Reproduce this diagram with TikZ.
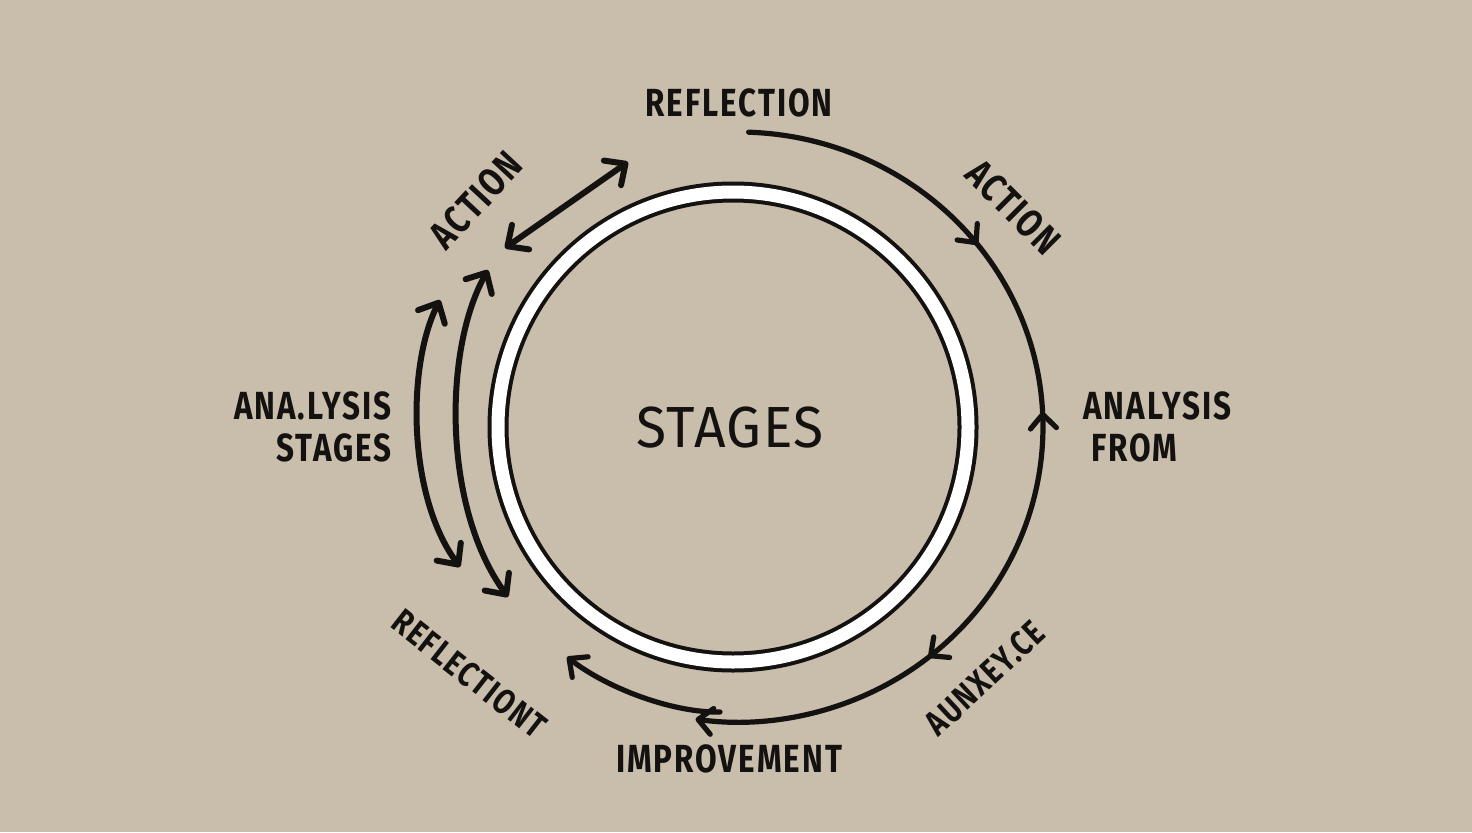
\documentclass[tikz,border=0pt]{standalone}
\usepackage{fontspec}
\setsansfont{Fira Sans}
\newfontfamily\handfont[FakeStretch=0.8,LetterSpace=5]{Fira Sans}
\newfontfamily\centerfont[FakeStretch=0.95,LetterSpace=3]{Fira Sans}
\usetikzlibrary{arrows.meta,decorations.markings}
\definecolor{bg}{HTML}{C9BDAB}
\definecolor{ink}{HTML}{141210}
\begin{document}
\begin{tikzpicture}[x=0.5pt,y=0.5pt,
  inkline/.style={draw=ink, line width=2.6pt, line cap=round, line join=round},
  thickline/.style={draw=ink, line width=3pt, line cap=round, line join=round},
  >={Straight Barb[length=7pt,width=13pt,line cap=round,line join=round]},
  bigtip/.tip={Straight Barb[length=8pt,width=15pt,line cap=round,line join=round]},
  lbl/.style={text=ink, font=\handfont\bfseries\fontsize{19.6}{21}\selectfont, inner sep=0pt},
  slbl/.style={text=ink, font=\handfont\bfseries\fontsize{17.5}{19}\selectfont, inner sep=0pt},
  ctr/.style={text=ink, font=\centerfont\fontsize{29}{31}\selectfont, inner sep=0pt}]
\fill[bg] (0,0) rectangle (1472,832);
\useasboundingbox (0,0) rectangle (1472,832);
% ring
\coordinate (ring) at (733,405);
\draw[ink, line width=10.5pt] (ring) circle[radius=235];
\draw[white, line width=6.5pt] (ring) circle[radius=235];
\node[ctr] (stages) at (730,404) {STAGES};
% big right arc
\coordinate (bigstart) at (748.6,699.8);
\draw[inkline, ->, postaction={decorate}, decoration={markings,
   mark=at position 0.27 with {\arrow{>}},
   mark=at position 0.457 with {\arrowreversed{>}},
   mark=at position 0.746 with {\arrow{>}}}]
  (bigstart) arc[start angle=88, end angle=-98, x radius=305, y radius=295] coordinate (bigend);
% bottom-left curve
\coordinate (blstart) at (720,120);
\coordinate (blend) at (567,175);
\draw[inkline, ->] (blstart) .. controls (675,119) and (610,142) .. (blend);
% top-left double arrow
\coordinate (tla) at (505,584);
\coordinate (tlb) at (628,670);
\draw[thickline, bigtip-bigtip] (tla) -- (tlb);
% left arcs
\coordinate (ia) at (488,562);
\coordinate (ib) at (508,235);
\draw[thickline, bigtip-bigtip] (ia) .. controls (443,482) and (443,324) .. (ib);
\coordinate (oa) at (440,532);
\coordinate (ob) at (460,265);
\draw[thickline, bigtip-bigtip] (oa) .. controls (407,467) and (407,337) .. (ob);
% labels
\node[lbl] (reflTop) at (739,729) {REFLECTION};
\node[lbl, rotate=47] (actL) at (476,632) {ACTION};
\node[lbl, rotate=-45] (actR) at (1013,625) {ACTION};
\node[lbl, align=right, anchor=east] (anaL) at (392,405) {ANA.LYSIS\\STAGES};
\node[lbl, align=left, anchor=west] (anaR) at (1083,405) {ANALYSIS\\\hspace*{4pt}FROM};
\node[slbl, rotate=-38] (reflB) at (469,158) {REFLECTIONT};
\node[lbl] (impr) at (729,73) {IMPROVEMENT};
\node[slbl, rotate=43] (anx) at (985,154) {AUNXEY.CE};
\end{tikzpicture}
\end{document}
